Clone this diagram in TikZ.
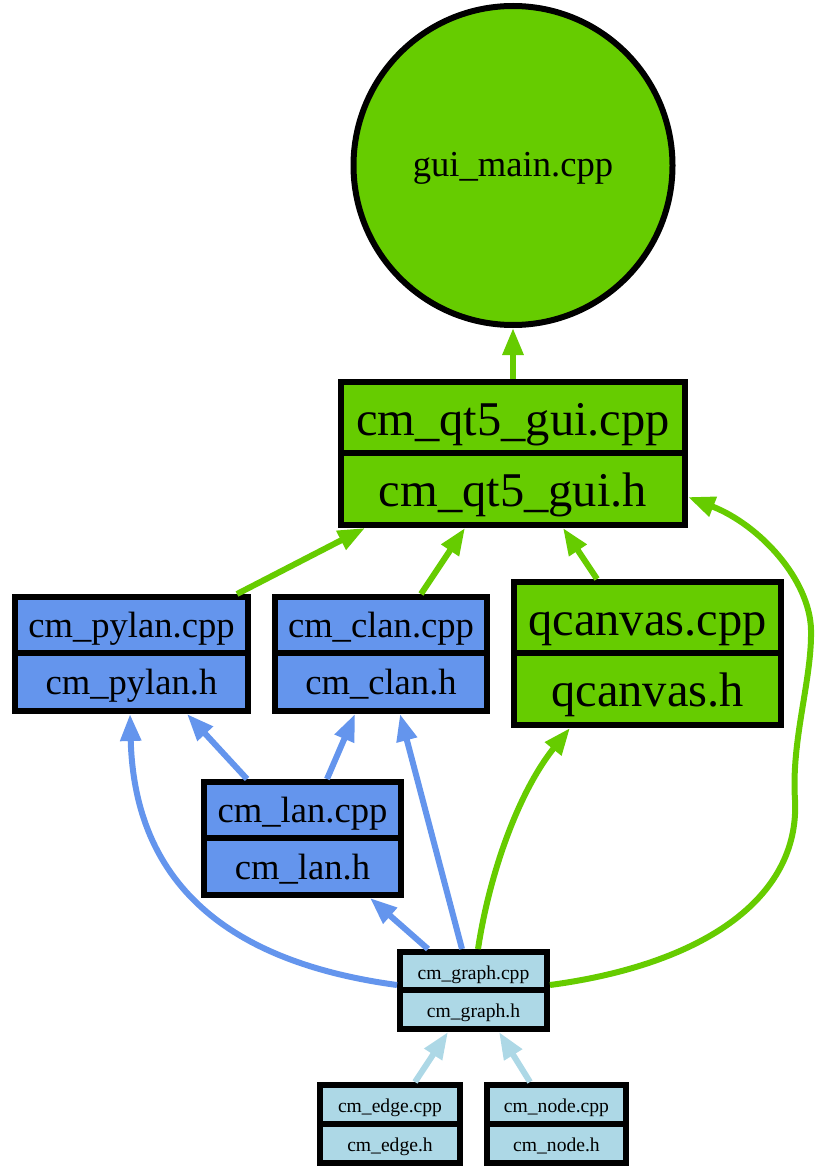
\documentclass[tikz,border=0pt]{standalone}
\usepackage{fontspec}
\setmainfont{Liberation Serif}
\usetikzlibrary{arrows.meta,calc}
\definecolor{gguiGreen}{RGB}{102,204,0}
\definecolor{gguiBlue}{RGB}{100,149,237}
\definecolor{gguiLight}{RGB}{173,216,230}
\tikzset{
  rec/.style={draw=black, line width=6pt, inner sep=0pt, text=black},
  bigtxt/.style={font=\fontsize{48.5}{50}\selectfont, text height=46pt, text depth=11pt},
  midtxt/.style={font=\fontsize{36.6}{38}\selectfont, text height=34pt, text depth=9pt},
  smalltxt/.style={font=\fontsize{19.6}{21}\selectfont, text height=20pt, text depth=4pt},
  dep/.style={line width=6pt, -{Triangle[length=27pt,width=20pt]}},
  depgreen/.style={dep, draw=gguiGreen},
  depblue/.style={dep, draw=gguiBlue},
  deplight/.style={dep, draw=gguiLight},
}
\begin{document}
\begin{tikzpicture}[x=1pt,y=-1pt]
\useasboundingbox (0,0) rectangle (828,1169);
% gui_main
\node[circle, draw=black, line width=6pt, fill=gguiGreen, minimum size=319pt, inner sep=0pt, midtxt, text height=33pt, text depth=10pt] (gui) at (513,165.5) {gui\_main.cpp};
% cm_qt5_gui
\node[rec, fill=gguiGreen, bigtxt, minimum width=344pt, minimum height=71pt] (qtc) at (513,417.5) {cm\_qt5\_gui.cpp};
\node[rec, fill=gguiGreen, bigtxt, minimum width=344pt, minimum height=72pt] (qth) at (513,489) {cm\_qt5\_gui.h};
% qcanvas
\node[rec, fill=gguiGreen, bigtxt, minimum width=267pt, minimum height=71pt] (qcc) at (647.5,617.5) {qcanvas.cpp};
\node[rec, fill=gguiGreen, bigtxt, minimum width=267pt, minimum height=72pt] (qch) at (647.5,689) {qcanvas.h};
% cm_pylan
\node[rec, fill=gguiBlue, midtxt, minimum width=233pt, minimum height=56pt] (pyc) at (131.5,625) {cm\_pylan.cpp};
\node[rec, fill=gguiBlue, midtxt, minimum width=233pt, minimum height=58pt] (pyh) at (131.5,682) {cm\_pylan.h};
% cm_clan
\node[rec, fill=gguiBlue, midtxt, minimum width=212pt, minimum height=56pt] (clc) at (381,625) {cm\_clan.cpp};
\node[rec, fill=gguiBlue, midtxt, minimum width=212pt, minimum height=58pt] (clh) at (381,682) {cm\_clan.h};
% cm_lan
\node[rec, fill=gguiBlue, midtxt, minimum width=197pt, minimum height=56pt] (lnc) at (302.5,810) {cm\_lan.cpp};
\node[rec, fill=gguiBlue, midtxt, minimum width=197pt, minimum height=57pt] (lnh) at (302.5,866.5) {cm\_lan.h};
% cm_graph
\node[rec, fill=gguiLight, smalltxt, minimum width=147pt, minimum height=38pt] (grc) at (473.5,971) {cm\_graph.cpp};
\node[rec, fill=gguiLight, smalltxt, minimum width=147pt, minimum height=39pt] (grh) at (473.5,1009.5) {cm\_graph.h};
% cm_edge
\node[rec, fill=gguiLight, smalltxt, minimum width=140pt, minimum height=39pt] (edc) at (390,1104.5) {cm\_edge.cpp};
\node[rec, fill=gguiLight, smalltxt, minimum width=140pt, minimum height=39pt] (edh) at (390,1143.5) {cm\_edge.h};
% cm_node
\node[rec, fill=gguiLight, smalltxt, minimum width=139pt, minimum height=39pt] (ndc) at (556.5,1104.5) {cm\_node.cpp};
\node[rec, fill=gguiLight, smalltxt, minimum width=139pt, minimum height=39pt] (ndh) at (556.5,1143.5) {cm\_node.h};

% edges
\draw[depgreen] (qtc.north) -- (gui.south);
\draw[depgreen] ([xshift=105.5pt]pyc.north) -- ([xshift=-148pt]qth.south);
\draw[depgreen] ([xshift=40pt]clc.north) -- ([xshift=-48pt]qth.south);
\draw[depgreen] ([xshift=-50.5pt]qcc.north) -- ([xshift=50pt]qth.south);
\draw[depgreen] ([yshift=-14pt]grc.east) .. controls (700,965) and (800,900) .. (795,800)
   .. controls (791,740) and (812,680) .. (811,630)
   .. controls (810,580) and (760,525) .. ([yshift=-8pt]qth.east);
\draw[depgreen] ([xshift=4.5pt]grc.north) .. controls (490,870) and (520,790) .. ([xshift=-77.5pt]qch.south);
\draw[depblue] ([xshift=-11.5pt]grc.north) -- ([xshift=19pt]clh.south);
\draw[depblue] ([xshift=-45.5pt]grc.north) -- ([xshift=67.5pt]lnh.south);
\draw[depblue] ([yshift=-14pt]grc.west) .. controls (250,965) and (135,900) .. ([xshift=-1.5pt]pyh.south);
\draw[depblue] ([xshift=-55.5pt]lnc.north) -- ([xshift=55.5pt]pyh.south);
\draw[depblue] ([xshift=24.5pt]lnc.north) -- ([xshift=-26pt]clh.south);
\draw[deplight] ([xshift=25pt]edc.north) -- ([xshift=-25.5pt]grh.south);
\draw[deplight] ([xshift=-26.5pt]ndc.north) -- ([xshift=25.5pt]grh.south);
\end{tikzpicture}
\end{document}
